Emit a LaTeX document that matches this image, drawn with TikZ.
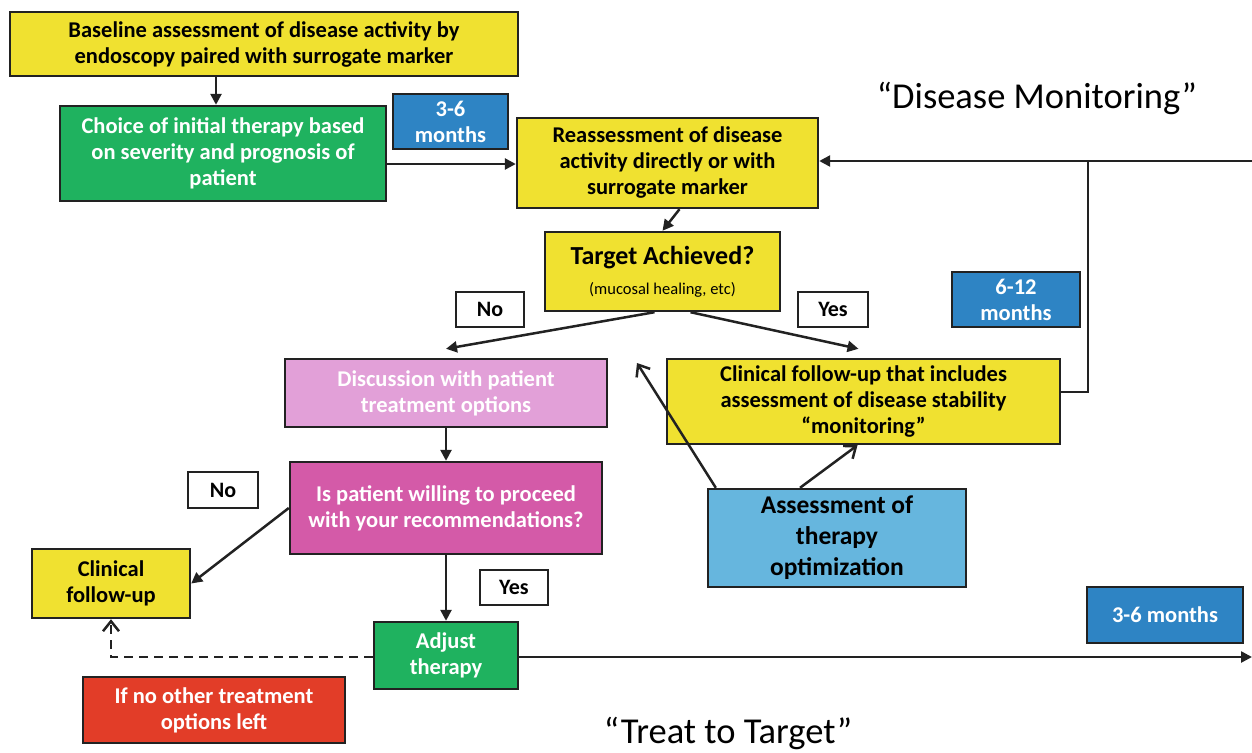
\documentclass[tikz,border=0pt]{standalone}
\usepackage{fontspec}
\setmainfont{Carlito}
\usetikzlibrary{arrows.meta,calc}
\definecolor{ylw}{HTML}{F0E130}
\definecolor{grn}{HTML}{1FB25F}
\definecolor{mblue}{HTML}{2E84C4}
\definecolor{pinkc}{HTML}{E2A0D8}
\definecolor{magc}{HTML}{D45AA8}
\definecolor{redc}{HTML}{E23D28}
\definecolor{lblue}{HTML}{66B6DE}
\definecolor{edge}{HTML}{222222}
\tikzset{
  x=1pt,y=-1pt,
  box/.style={draw=edge,line width=2.4pt,align=center,inner sep=1pt,
    font=\fontsize{22.5}{26}\selectfont\bfseries},
  wtxt/.style={text=white},
  lbl/.style={draw=edge,line width=2.2pt,fill=white,align=center,inner sep=1pt,
    font=\fontsize{22}{24}\selectfont\bfseries},
  arr/.style={line width=2.5pt,draw=edge,-{Triangle[length=11pt,width=11pt]}},
  oarr/.style={line width=2.5pt,draw=edge,-{Straight Barb[length=10pt,width=16pt,line width=2.5pt]}},
  ttl/.style={font=\fontsize{36.5}{40}\selectfont},
}
\begin{document}
\begin{tikzpicture}
\useasboundingbox (0,0) rectangle (1252,752);
% nodes
\node[box,fill=ylw,minimum width=508,minimum height=64] (base) at (264,44)
  {Baseline assessment of disease activity by\\endoscopy paired with surrogate marker};
\node[box,fill=grn,wtxt,minimum width=326,minimum height=95] (choice) at (223,153.5)
  {Choice of initial therapy based\\on severity and prognosis of\\patient};
\node[box,fill=mblue,wtxt,minimum width=115,minimum height=55] (m1) at (450.5,121.5)
  {3-6\\months};
\node[box,fill=ylw,minimum width=301,minimum height=90] (reas) at (667.5,163)
  {Reassessment of disease\\activity directly or with\\surrogate marker};
\node[box,fill=ylw,minimum width=235,minimum height=79,font=\fontsize{26}{30}\selectfont\bfseries] (target) at (662.5,271.5)
  {Target Achieved?\\{\fontsize{16.5}{20}\selectfont\mdseries (mucosal healing, etc)}};
\node[lbl,minimum width=68,minimum height=35] (no1) at (490,309.5) {No};
\node[lbl,minimum width=70,minimum height=35] (yes1) at (833,309.5) {Yes};
\node[ttl] (dm) at (1037,98) {“Disease Monitoring”};
\node[box,fill=mblue,wtxt,minimum width=128,minimum height=55] (m2) at (1016,299.5)
  {6-12\\months};
\node[box,fill=ylw,minimum width=393,minimum height=85] (mon) at (863.5,401.5)
  {Clinical follow-up that includes\\assessment of disease stability\\“monitoring”};
\node[box,fill=pinkc,wtxt,minimum width=322,minimum height=68] (disc) at (446,393)
  {Discussion with patient\\treatment options};
\node[box,fill=magc,wtxt,minimum width=312,minimum height=92] (will) at (446,508)
  {Is patient willing to proceed\\with your recommendations?};
\node[lbl,minimum width=70,minimum height=36] (no2) at (223,490) {No};
\node[box,fill=ylw,minimum width=158,minimum height=69] (clin) at (111,583.5)
  {Clinical\\follow-up};
\node[lbl,minimum width=68,minimum height=35] (yes2) at (514,587.5) {Yes};
\node[box,fill=grn,wtxt,minimum width=144,minimum height=67] (adj) at (446,655.5)
  {Adjust\\therapy};
\node[box,fill=redc,wtxt,minimum width=262,minimum height=66] (red) at (214,710)
  {If no other treatment\\options left};
\node[box,fill=lblue,minimum width=258,minimum height=98,font=\fontsize{25.5}{31}\selectfont\bfseries] (opt) at (837,538)
  {Assessment of\\therapy\\optimization};
\node[box,fill=mblue,wtxt,minimum width=156,minimum height=56] (m3) at (1165,615)
  {3-6 months};
\node[ttl] (tt) at (728,733) {“Treat to Target”};
% coordinates
\coordinate (rtop) at (1252,161);
\coordinate (rbot) at (1252,657);
\coordinate (mid) at (1088,161);
\coordinate (free) at (637,363);
% connectors
\draw[arr] (base.south -| 216,0) -- (choice.north -| 216,0);
\draw[arr] (choice.east |- 0,164) -- (reas.west |- 0,164);
\draw[arr] ($(reas.south)+(12,0)$) -- (target.north);
\draw[arr] ($(target.south)+(-8,0)$) -- ($(disc.north)+(0,-9)$);
\draw[arr] ($(target.south)+(28,0)$) -- ($(mon.north)+(-5,-9)$);
\draw[arr] (rtop) -- (reas.east |- rtop);
\draw[line width=2.5pt,draw=edge] (mon.east |- 0,392) -| (mid);
\draw[arr] (disc.south) -- (will.north);
\draw[arr] (will.west) -- (clin.east);
\draw[arr] (will.south) -- (adj.north);
\draw[arr] (adj.east |- rbot) -- (rbot);
\draw[oarr,dash pattern=on 9pt off 6pt] (adj.west |- rbot) -| (clin.south);
\draw[oarr] ($(opt.north)+(-37,0)$) -- ($(mon.south)+(-6,0)$);
\draw[oarr] ($(opt.north west)+(9,0)$) -- (free);
\end{tikzpicture}
\end{document}
